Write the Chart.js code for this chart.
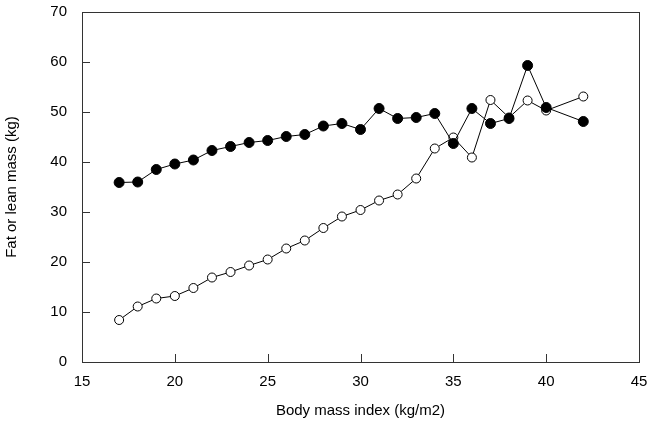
<!DOCTYPE html>
<html>
<head>
<meta charset="utf-8">
<title>Fat and lean mass by BMI</title>
<script src="https://cdn.jsdelivr.net/npm/chart.js@4/dist/chart.umd.min.js"></script>
<style>
  html, body { margin: 0; padding: 0; background: #fff; }
  canvas { display: block; }
</style>
</head>
<body>
<canvas id="massChart" width="650" height="422"></canvas>
<script>
// BMI categories (kg/m2) and the two mass series (kg)
var bmiValues = [17, 18, 19, 20, 21, 22, 23, 24, 25, 26, 27, 28, 29, 30, 31, 32, 33, 34, 35, 36, 37, 38, 39, 40, 42];
var leanMass = [35.9, 36.0, 38.5, 39.6, 40.4, 42.3, 43.1, 43.9, 44.3, 45.1, 45.5, 47.2, 47.7, 46.5, 50.7, 48.7, 48.9, 49.7, 43.7, 50.7, 47.7, 48.7, 59.3, 50.9, 48.1];
var fatMass = [8.4, 11.1, 12.7, 13.2, 14.8, 16.9, 18.0, 19.3, 20.5, 22.7, 24.3, 26.8, 29.1, 30.4, 32.3, 33.5, 36.7, 42.7, 44.9, 40.9, 52.4, 48.9, 52.3, 50.3, 53.1];

var xTicks = [15, 20, 25, 30, 35, 40, 45];
var yTicks = [0, 10, 20, 30, 40, 50, 60, 70];

var ink = '#000';
var frame = '#333';
var fontFamily = '"Liberation Sans", Arial, Helvetica, sans-serif';

function toPoints(xs, ys) {
    return xs.map(function (x, i) { return { x: x, y: ys[i] }; });
}

// frame round the plot plus short inward tick marks
var framePlugin = {
    id: 'frameTicks',
    afterDatasetsDraw: function (chart) {
        var ctx = chart.ctx;
        var a = chart.chartArea;
        var xs = chart.scales.x, ys = chart.scales.y;
        ctx.save();
        ctx.strokeStyle = frame;
        ctx.lineWidth = 1;
        ctx.strokeRect(Math.round(a.left) + 0.5, Math.round(a.top) + 0.5,
            Math.round(a.right - a.left), Math.round(a.bottom - a.top));
        ctx.beginPath();
        xTicks.slice(1, -1).forEach(function (v) {
            var px = Math.round(xs.getPixelForValue(v)) + 0.5;
            ctx.moveTo(px, a.bottom);
            ctx.lineTo(px, a.bottom - 8);
        });
        yTicks.slice(1, -1).forEach(function (v) {
            var py = Math.round(ys.getPixelForValue(v)) + 0.5;
            ctx.moveTo(a.left, py);
            ctx.lineTo(a.left + 8, py);
        });
        ctx.stroke();
        ctx.restore();
    }
};

new Chart(document.getElementById('massChart').getContext('2d'), {
    type: 'line',
    data: {
        datasets: [{
            label: 'Lean mass',
            data: toPoints(bmiValues, leanMass),
            borderColor: ink,
            borderWidth: 1,
            pointRadius: 5,
            pointBorderWidth: 1,
            pointBorderColor: ink,
            pointBackgroundColor: ink,
            tension: 0
        }, {
            label: 'Fat mass',
            data: toPoints(bmiValues, fatMass),
            borderColor: ink,
            borderWidth: 1,
            pointRadius: 4.5,
            pointBorderWidth: 1,
            pointBorderColor: ink,
            pointBackgroundColor: '#fff',
            tension: 0
        }]
    },
    options: {
        responsive: false,
        animation: false,
        layout: { padding: { left: 0, right: 11, top: 12, bottom: 0 } },
        plugins: {
            legend: { display: false },
            tooltip: { enabled: false }
        },
        scales: {
            x: {
                type: 'linear',
                min: 15,
                max: 45,
                afterBuildTicks: function (s) { s.ticks = xTicks.map(function (v) { return { value: v }; }); },
                afterFit: function (s) { s.height = 60; s.paddingLeft = 0; s.paddingRight = 0; },
                grid: { display: false, drawTicks: false },
                border: { display: false },
                ticks: { color: ink, padding: 11, font: { family: fontFamily, size: 15 } },
                title: {
                    display: true,
                    text: 'Body mass index (kg/m2)',
                    color: ink,
                    padding: { top: 2, bottom: 2 },
                    font: { family: fontFamily, size: 15 }
                }
            },
            y: {
                min: 0,
                max: 70,
                afterBuildTicks: function (s) { s.ticks = yTicks.map(function (v) { return { value: v }; }); },
                afterFit: function (s) { s.width = 82; s.paddingTop = 0; s.paddingBottom = 0; },
                grid: { display: false, drawTicks: false },
                border: { display: false },
                ticks: { color: ink, padding: 15, font: { family: fontFamily, size: 15 } },
                title: {
                    display: true,
                    text: 'Fat or lean mass (kg)',
                    color: ink,
                    padding: { top: 3, bottom: 3 },
                    font: { family: fontFamily, size: 15 }
                }
            }
        }
    },
    plugins: [framePlugin]
});
</script>
</body>
</html>
